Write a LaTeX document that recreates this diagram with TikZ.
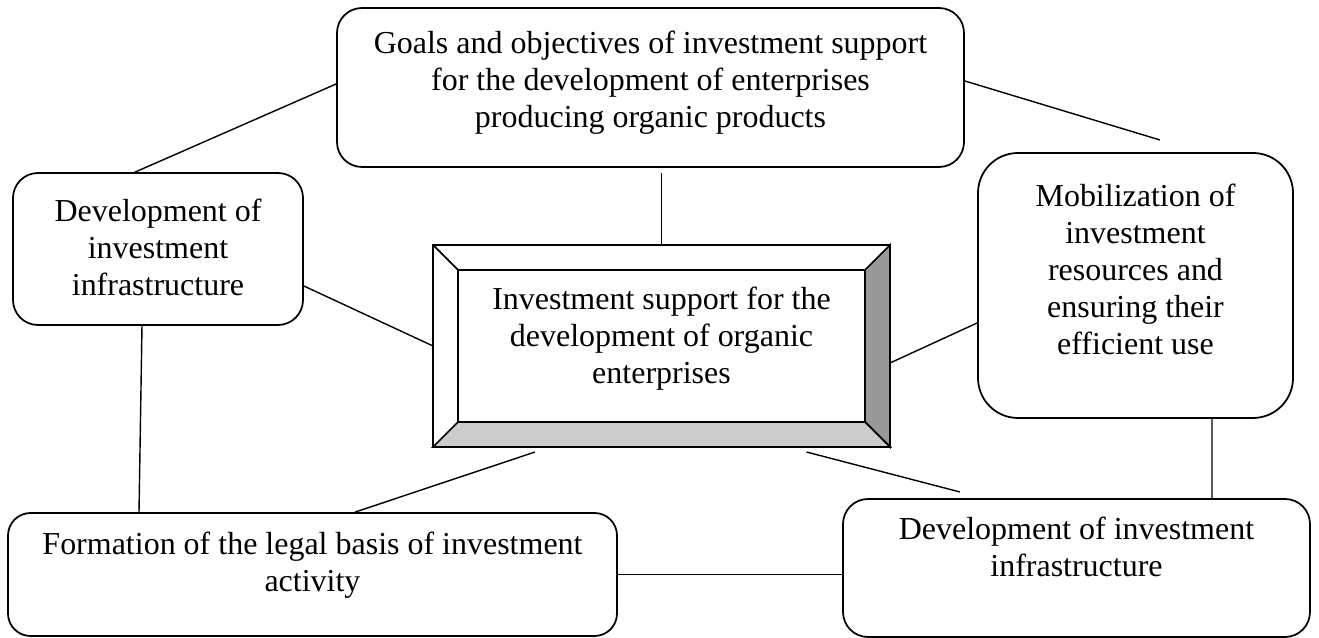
\documentclass[tikz,border=0pt]{standalone}
\usepackage{fontspec}
\setmainfont{Liberation Serif}
\usepackage{tikz}
\usetikzlibrary{positioning}

\begin{document}
\begin{tikzpicture}[draw=black]
	\tikzset{rbox/.style={rectangle, rounded corners=0.5cm, draw=black, line width=1pt},
		btext/.style={align=center, inner sep=0pt, font=\fontsize{18.2}{21}\selectfont},
		bevel/.style={rectangle, draw=black, line width=1pt, outer sep=0pt},
		link/.style={draw=black, line width=0.8pt}}
	\useasboundingbox (0,0) rectangle (26.38,12.76);

	% boxes round the centre
	\node[rbox, minimum width=12.54cm, minimum height=3.18cm] (goals) at (13.01,11.01) {};
	\node[btext, below=0.48 of goals.north] (goalst) {Goals and objectives of investment support\\ for the development of enterprises\\ producing organic products};

	\node[rbox, minimum width=5.8cm, minimum height=3.04cm] (leftdev) at (3.16,7.78) {};
	\node[btext, below=0.54 of leftdev.north] (leftdevt) {Development of\\ investment\\ infrastructure};

	\node[rbox, rounded corners=0.8cm, minimum width=6.3cm, minimum height=5.3cm] (mobil) at (22.71,7.05) {};
	\node[btext, below=0.64 of mobil.north] (mobilt) {Mobilization of\\ investment\\ resources and\\ ensuring their\\ efficient use};

	\node[rbox, rounded corners=0.45cm, minimum width=12.18cm, minimum height=2.46cm] (legal) at (6.25,1.27) {};
	\node[btext, below=0.4 of legal.north] (legalt) {Formation of the legal basis of investment\\ activity};

	\node[rbox, minimum width=9.34cm, minimum height=2.76cm] (rightdev) at (21.53,1.40) {};
	\node[btext, below=0.38 of rightdev.north] (rightdevt) {Development of investment\\ infrastructure};

	% bevelled centre box
	\node[bevel, minimum width=9.14cm, minimum height=4.04cm] (core) at (13.23,5.84) {};
	\node[bevel, minimum width=8.14cm, minimum height=3.04cm] (corein) at (core) {};
	\filldraw[fill=black!40, line width=1pt] (core.north east) -- (core.south east) -- (corein.south east) -- (corein.north east) -- cycle;
	\filldraw[fill=black!20, line width=1pt] (core.south west) -- (core.south east) -- (corein.south east) -- (corein.south west) -- cycle;
	\draw[line width=1pt] (core.north west) -- (corein.north west);
	\node[btext, below=0.84 of core.north] (coret) {Investment support for the\\ development of organic\\ enterprises};

	% connectors
	\coordinate (goalsend) at (23.2,9.96);
	\coordinate (coreend) at (19.2,2.92);
	\draw[link] ([yshift=0.07cm]goals.west) -- ([xshift=-0.46cm]leftdev.north);
	\draw[link] ([yshift=0.13cm]goals.east) -- (goalsend);
	\draw[link, shorten <=0.1cm] (core.north |- goals.south) -- (core.north);
	\draw[link] ([yshift=-0.74cm]leftdev.east) -- (core.west);
	\draw[link] ([yshift=-0.34cm]core.east) -- ([yshift=-0.75cm]mobil.west);
	\draw[link] ([xshift=-0.32cm]leftdev.south) -- ([xshift=-3.47cm]legal.north);
	\draw[link] ([xshift=-2.53cm,yshift=-0.1cm]core.south) -- ([xshift=0.85cm]legal.north);
	\draw[link] ([xshift=2.9cm,yshift=-0.1cm]core.south) -- (coreend);
	\draw[link] ([xshift=1.53cm]mobil.south) -- ([xshift=2.71cm]rightdev.north);
	\draw[link] (legal.east) -- (legal.east -| rightdev.west);
\end{tikzpicture}
\end{document}
